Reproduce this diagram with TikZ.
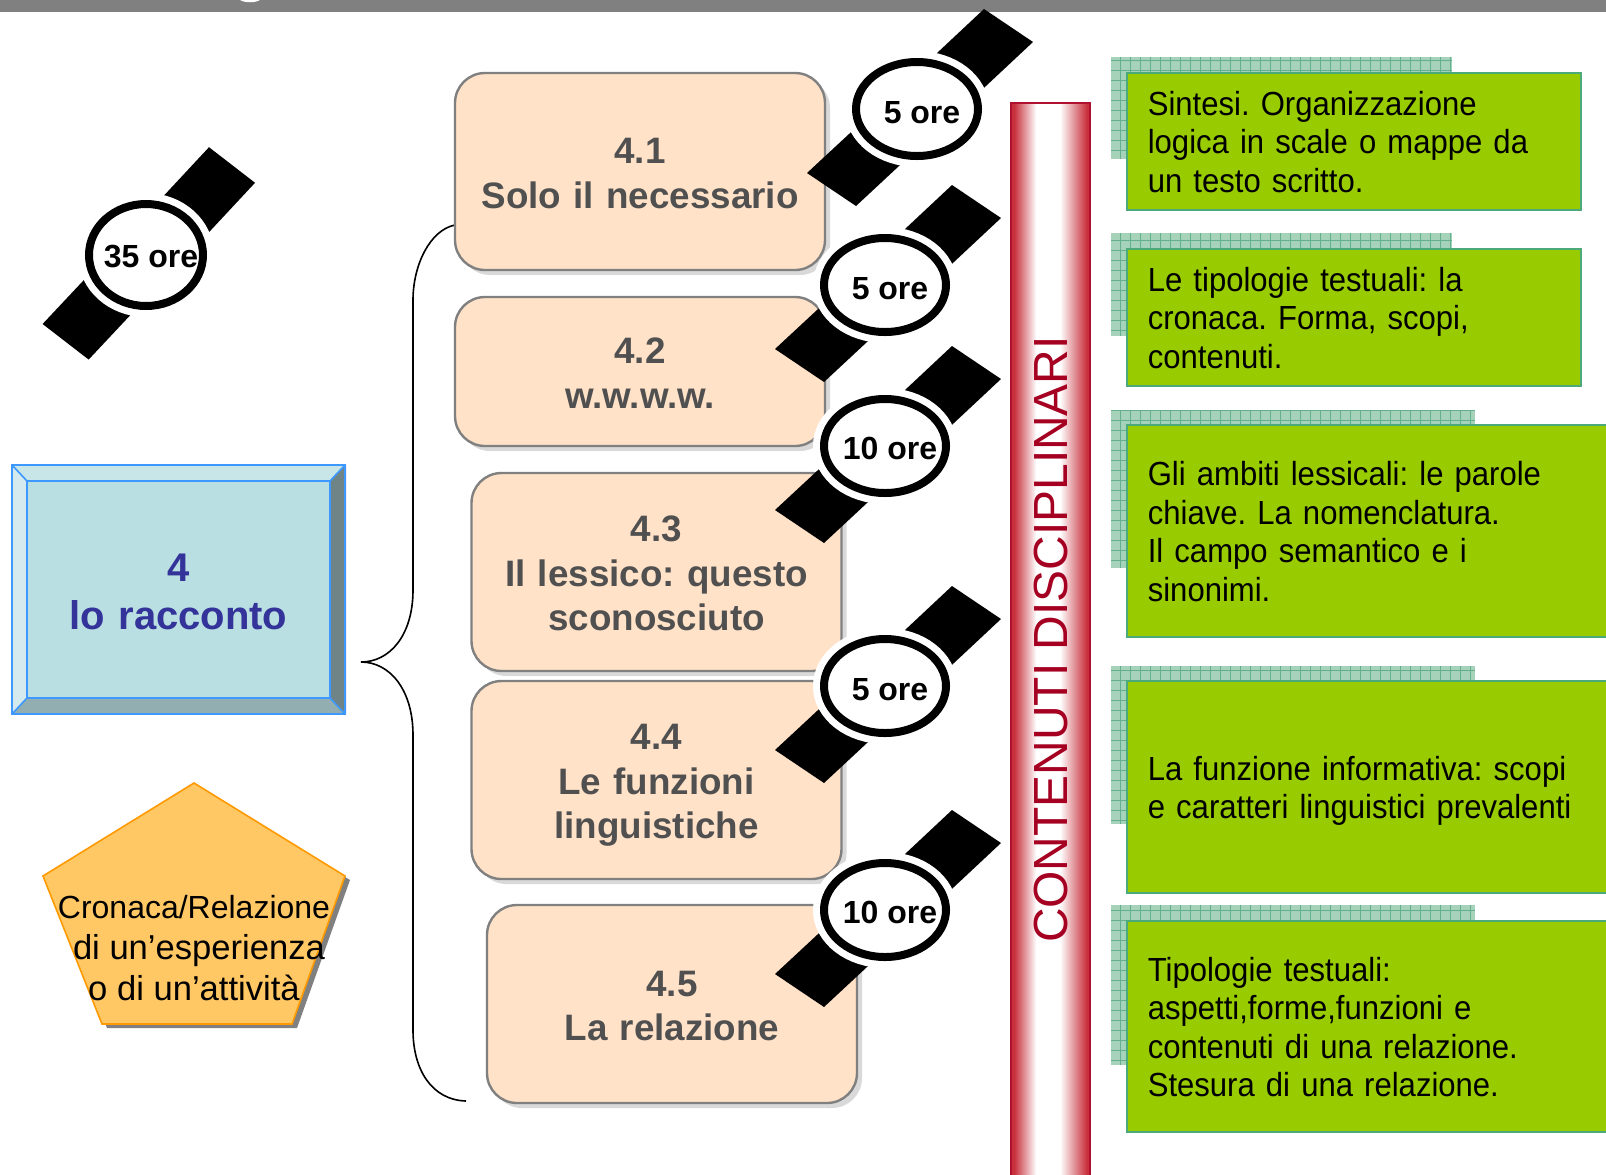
\documentclass[tikz,border=0pt]{standalone}
\usepackage{xcolor}
\usepackage{fontspec}
\setmainfont{Liberation Sans}
\newfontfamily\condfont[FakeStretch=0.93]{Liberation Sans}
\frenchspacing
\usepackage{tikz}
\usetikzlibrary{arrows.meta, positioning, calc, shapes, shadows}

\definecolor{peach}{HTML}{FFE2C8}
\definecolor{barred}{HTML}{C8303C}
\definecolor{bardark}{HTML}{B01030}
\definecolor{bartext}{HTML}{A50021}
\definecolor{limefill}{HTML}{99CC00}
\definecolor{limeedge}{HTML}{4CA97A}
\definecolor{texfill}{HTML}{A6D2BA}
\definecolor{texline}{HTML}{62B090}
\definecolor{labelgray}{HTML}{505050}
\definecolor{titleblue}{HTML}{333399}
\definecolor{bevelblue}{HTML}{3D99FF}
\definecolor{pentfill}{HTML}{FFC864}
\definecolor{pentedge}{HTML}{FF9900}
\pgfdeclarehorizontalshading{barshade}{100bp}{color(0bp)=(barred);color(27bp)=(barred);color(41bp)=(white);color(56bp)=(white);color(73bp)=(barred);color(100bp)=(barred)}

\tikzset{
    unitbox/.style={draw=gray, line width=1.2pt, fill=peach, rounded corners=15pt, minimum width=185pt,
        text width=185pt, inner sep=0pt, align=center, text=labelgray, font=\fontsize{18.4}{22.3}\selectfont\bfseries,
        execute at begin node={\rule{0pt}{20.3pt}}, execute at end node={\rule[-6pt]{0pt}{6pt}},
        drop shadow={shadow xshift=2.5pt, shadow yshift=-2.5pt, fill=black!15, opacity=1}},
    topicbox/.style={draw=limeedge, line width=0.8pt, fill=limefill, anchor=north west, align=left,
        inner xsep=10.5pt, inner ysep=0pt, font=\condfont\fontsize{16.7}{19.2}\selectfont,
        execute at begin node={\rule{0pt}{18.6pt}}, execute at end node={\rule[-6pt]{0pt}{6pt}}},
    texpatch/.style={fill=texfill},
    texgrid/.style={draw=texline, line width=0.4pt, step=5pt},
    watchhalo/.style={ellipse, draw=white, fill=white, line width=11pt, inner sep=0pt},
    watchring/.style={ellipse, draw=black, fill=white, line width=4pt, inner sep=0pt},
    watchtext/.style={inner sep=0pt, font=\fontsize{16}{16}\selectfont\bfseries},
}

\begin{document}
\begin{tikzpicture}[x=0.5pt, y=-0.5pt]
        \useasboundingbox (0,0) rectangle (1606,1174);
        % top band
        \fill[gray] (0,0) rectangle (1606,12);
        \fill[white] (240,0) .. controls (245,3) and (255,3) .. (260,0);

        % brace
        \coordinate (bracetop) at (455,225);
        \coordinate (bracetip) at (361,662);
        \coordinate (bracebot) at (466,1101);
        \draw[line width=0.8pt] (bracetop) .. controls (430,230) and (413,265) .. (413,300) -- (413,590)
            .. controls (413,635) and (390,662) .. (bracetip)
            .. controls (390,662) and (413,690) .. (413,735) -- (413,1030)
            .. controls (413,1070) and (432,1100) .. (bracebot);

        % unit title, bevelled
        \fill[color={rgb,255:red,200;green,229;blue,232}] (12,465) -- (346,465) -- (330,481) -- (27,481) -- cycle;
        \fill[color={rgb,255:red,212;green,234;blue,238}] (12,465) -- (27,481) -- (27,698) -- (12,714) -- cycle;
        \fill[color={rgb,255:red,110;green,132;blue,135}] (346,465) -- (346,714) -- (330,698) -- (330,481) -- cycle;
        \fill[color={rgb,255:red,147;green,174;blue,177}] (12,714) -- (27,698) -- (330,698) -- (346,714) -- cycle;
        \draw[bevelblue, line width=0.8pt] (12,465) rectangle (345,714)
            (12,465) -- (27,481) (345,465) -- (330,481) (12,714) -- (27,698) (345,714) -- (330,698);
        \node[draw=bevelblue, fill={rgb,255:red,185;green,223;blue,226}, line width=0.8pt,
            minimum width=151.5pt, minimum height=108.5pt, text width=151.5pt, inner sep=0pt, align=center, text=titleblue,
            font=\fontsize{20}{24}\selectfont\bfseries, execute at begin node={\rule{0pt}{16.5pt}}] (title) at (178.5,589.5) {4\\lo racconto};

        % text type pentagon
        \fill[gray] (199,787) -- (350,880) -- (297,1028) -- (107,1028) -- (48,880) -- cycle;
        \draw[pentedge, fill=pentfill, line width=0.8pt]
            (194,783) -- (345,876) -- (292,1024) -- (102,1024) -- (43,876) -- cycle;
        \node[align=center, inner sep=0pt, font=\fontsize{16}{20.5}\selectfont] (genre) at (194,948)
            {Cronaca/Relazione\\\fontsize{17.3}{20.5}\selectfont\hspace*{5pt}di un’esperienza\\\fontsize{17.3}{20.5}\selectfont o di un’attività};

        % units
        \node[unitbox, minimum height=98.5pt] (unit1) at (640,171.5) {4.1\\Solo il necessario};
        \node[unitbox, minimum height=74.5pt] (unit2) at (640,371.5) {4.2\\w.w.w.w.};
        \node[unitbox, minimum height=99pt] (unit3) at (656.5,572) {4.3\\Il lessico: questo\\sconosciuto};
        \node[unitbox, minimum height=99pt] (unit4) at (656.5,780) {4.4\\Le funzioni\\linguistiche};
        \node[unitbox, minimum height=99pt] (unit5) at (672,1004) {4.5\\La relazione};

        % watches
        \foreach \wname/\wx/\wy/\wsx/\wsy/\wrx/\wry/\wdy/\wtext in {
            wall/146/255/0.94/1.078/57/51/0.5/35 ore,
            wone/917/109/1/1/61/47/2/5 ore,
            wtwo/885/285/1/1/61/47/2/5 ore,
            wthree/885/446/1/1/61/47/1.3/10 ore,
            wfour/885/686/1/1/61/47/1.7/5 ore,
            wfive/885/910/1/1/61/47/1.3/10 ore} {
            \begin{scope}[shift={(\wx,\wy)}, xscale=\wsx, yscale=\wsy]
                \fill (67,-100) -- (116,-67) -- (60,-14.6) -- (10,-46.6) -- cycle;
                \fill (-110,64) -- (-61,97) -- (-8,47.7) -- (-58,15.7) -- cycle;
            \end{scope}
            \node[watchhalo, minimum width=\wrx pt*1, minimum height=\wry pt*1] at (\wx,\wy) {};
            \node[watchring, minimum width=\wrx pt*1, minimum height=\wry pt*1] (\wname) at (\wx,\wy) {};
            \node[watchtext] (\wname text) at ([shift={(2.5pt,-\wdy pt)}]\wname.center) {\wtext};
        }

        % side bar
        \node[shade, shading=barshade, draw=bardark, line width=1pt, minimum width=39.5pt, minimum height=540pt, inner sep=0pt,
            anchor=north] (bar) at (1050.5,102) {};
        \node[rotate=90, text=bartext, inner sep=0pt, font=\fontsize{23.95}{24}\selectfont] (barlabel) at (1051,639.5)
            {CONTENUTI DISCIPLINARI};

        % contents
        \foreach \tx/\ty/\tw/\th in {1111/57/1452/159, 1111/233/1452/336, 1111/410/1475/568, 1111/666/1475/824, 1111/905/1475/1065} {
            \fill[texpatch] (\tx,\ty) rectangle (\tw,\th);
            \begin{scope}
                \clip (\tx,\ty) rectangle (\tw,\th);
                \draw[texgrid] (\tx,\ty) grid (\tw,\th);
            \end{scope}
        }
        \node[topicbox, text width=206pt, minimum height=68.5pt] (topic1) at (1126,72)
            {Sintesi. Organizzazione\\logica in scale o mappe da\\un testo scritto.};
        \node[topicbox, text width=206pt, minimum height=68.5pt] (topic2) at (1126,248)
            {Le tipologie testuali: la\\cronaca. Forma, scopi,\\contenuti.};
        \node[topicbox, text width=225pt, minimum height=106pt] (topic3) at (1126,424)
            {Gli ambiti lessicali: le parole\\chiave. La nomenclatura.\\Il campo semantico e i\\sinonimi.};
        \node[topicbox, text width=225pt, minimum height=106pt] (topic4) at (1126,680)
            {La funzione informativa: scopi\\e caratteri linguistici prevalenti};
        \node[topicbox, text width=225pt, minimum height=105.5pt] (topic5) at (1126,920)
            {Tipologie testuali:\\aspetti,forme,funzioni e\\contenuti di una relazione.\\Stesura di una relazione.};
    \end{tikzpicture}
\end{document}
